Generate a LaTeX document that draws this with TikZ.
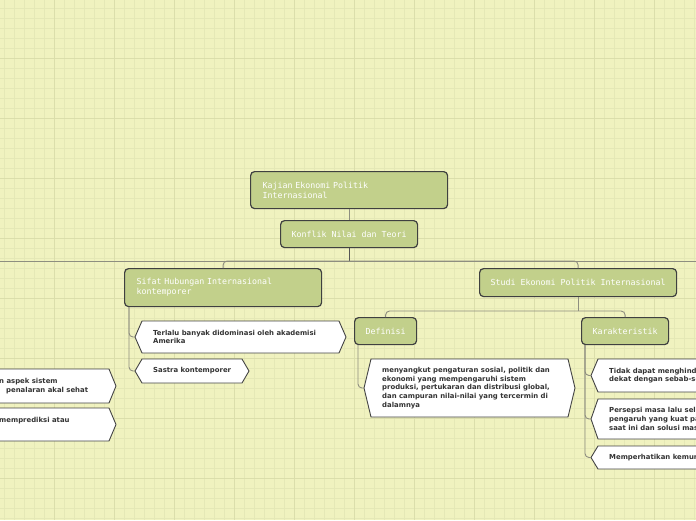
\documentclass[tikz,border=0pt]{standalone}
\usepackage{fontspec}
\newfontfamily\monofont{DejaVu Sans Mono}
\newfontfamily\leaffont{DejaVu Sans}
\definecolor{bgc}{HTML}{F0F2BF}
\definecolor{gridminor}{HTML}{E5E8B6}
\definecolor{gridmajor}{HTML}{DBDEAB}
\definecolor{nodefill}{HTML}{C2D08B}
\definecolor{nodeborder}{HTML}{3F4040}
\definecolor{connc}{HTML}{8E8E80}
\definecolor{stemc}{HTML}{555555}
\definecolor{leafborder}{HTML}{444444}
\definecolor{leafink}{HTML}{333333}
\tikzset{
  gbox/.style={draw=nodeborder, line width=1.2pt, fill=nodefill, rounded corners=4pt,
    text=white, font=\monofont\fontsize{8.3}{10}\selectfont, inner sep=0pt, anchor=north west},
  conn/.style={draw=connc, line width=0.9pt},
  leafline/.style={draw=leafborder, line width=0.9pt, fill=white},
  leaftext/.style={text=leafink, font=\leaffont\bfseries\fontsize{6.9}{8.7}\selectfont,
    inner sep=0pt, align=left, anchor=west},
}
\newcommand\leafbox[6]{%
  \draw[leafline] (#2,{(#3+#5)/2}) -- ({#2+7},#3) -- ({#4-7},#3) -- (#4,{(#3+#5)/2})
    -- ({#4-7},#5) -- ({#2+7},#5) -- cycle;
  \coordinate (#1) at (#2,{(#3+#5)/2});
  \node[leaftext] (#1-t) at ({#2+18},{(#3+#5)/2}) {#6};
}
\begin{document}
\begin{tikzpicture}[x=1pt, y=-1pt]
\useasboundingbox (0,0) rectangle (696,520);
\clip (0,0) rectangle (696,520);
\fill[bgc] (0,0) rectangle (696,520);
% grid
\foreach \gx in {4,14,...,694} \draw[gridminor, line width=0.8pt] (\gx,0) -- (\gx,520);
\foreach \gy in {8,18,...,518} \draw[gridminor, line width=0.8pt] (0,\gy) -- (696,\gy);
\foreach \gx in {54,114,...,654} \draw[gridmajor, line width=1pt] (\gx,0) -- (\gx,520);
\foreach \gy in {58,118,...,478} \draw[gridmajor, line width=1pt] (0,\gy) -- (696,\gy);

% main nodes
\node[gbox, minimum width=197pt, minimum height=37pt, text width=173pt, align=left] (root) at (250,171) {Kajian Ekonomi Politik\\Internasional};
\node[gbox, minimum width=137pt, minimum height=27pt] (konflik) at (280,220) {Konflik Nilai dan Teori};
\node[gbox, minimum width=197pt, minimum height=38pt, text width=173pt, align=left] (sifat) at (124,268) {Sifat Hubungan Internasional\\kontemporer};
\node[gbox, minimum width=197pt, minimum height=28pt] (studi) at (479,268) {Studi Ekonomi Politik Internasional};
\node[gbox, minimum width=62pt, minimum height=27pt] (definisi) at (354,317) {Definisi};
\node[gbox, minimum width=87pt, minimum height=27pt] (karakter) at (581,317) {Karakteristik};

% leaves
\leafbox{sA}{135}{321}{346}{353}{Terlalu banyak didominasi oleh akademisi\\Amerika}
\leafbox{sB}{135}{359}{249}{383}{Sastra kontemporer}
\leafbox{dA}{364}{359}{575}{417}{menyangkut pengaturan sosial, politik dan\\ekonomi yang mempengaruhi sistem\\produksi, pertukaran dan distribusi global,\\dan campuran nilai-nilai yang tercermin di\\dalamnya}
\leafbox{kA}{591}{359}{760}{392}{Tidak dapat menghindari\\dekat dengan sebab-sebab}
\leafbox{kB}{591}{399}{760}{439}{Persepsi masa lalu selalu\\pengaruh yang kuat pada\\saat ini dan solusi masa}
\leafbox{kC}{591}{446}{760}{469}{Memperhatikan kemungkinan}
\leafbox{lA}{-200}{369}{116}{403}{}
\leafbox{lB}{-200}{408}{116}{441}{}
\node[leaftext] (lA1) at (-1,382) {n aspek sistem};
\node[leaftext] (lA2) at (6,391) {penalaran akal sehat};
\node[leaftext] (lB1) at (-1,421) {memprediksi atau};

% connectors
\coordinate (busL) at (0,261);
\coordinate (busR) at (696,261);
\coordinate (sbus) at (0,311);
\draw[conn] (root.south) -- (konflik.north);
\draw[conn] (busL) -- (busR);
\draw[conn, draw=stemc] (konflik.south) -- (konflik.south |- busL);
\draw[conn, rounded corners=4pt] (konflik.south |- busL) -| (sifat.north);
\draw[conn, rounded corners=4pt] (konflik.south |- busL) -| (studi.north);
\draw[conn] (studi.south) -- (studi.south |- sbus);
\draw[conn, rounded corners=4pt] (studi.south |- sbus) -| (definisi.north);
\draw[conn, rounded corners=4pt] (studi.south |- sbus) -| (karakter.north);
\draw[conn, rounded corners=4pt] ([xshift=5pt]sifat.south west) |- (sA);
\draw[conn, rounded corners=4pt] ([xshift=5pt]sifat.south west) |- (sB);
\draw[conn, rounded corners=4pt] ([xshift=4pt]definisi.south west) |- (dA);
\draw[conn, rounded corners=4pt] ([xshift=4pt]karakter.south west) |- (kA);
\draw[conn, rounded corners=4pt] ([xshift=4pt]karakter.south west) |- (kB);
\draw[conn, rounded corners=4pt] ([xshift=4pt]karakter.south west) |- (kC);
\end{tikzpicture}
\end{document}
